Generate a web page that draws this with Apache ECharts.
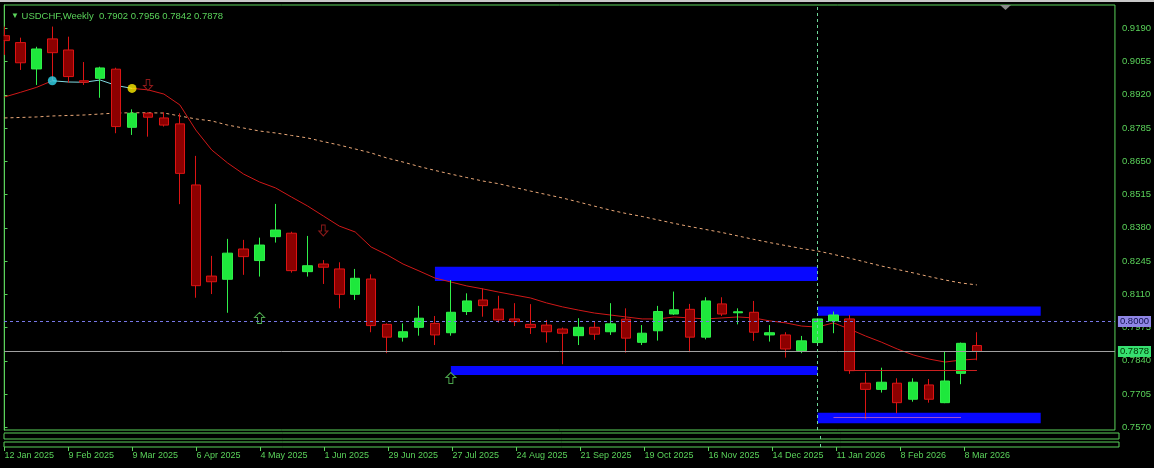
<!DOCTYPE html>
<html>
<head>
<meta charset="utf-8">
<title>USDCHF Weekly</title>
<script src="https://cdn.jsdelivr.net/npm/echarts@6/dist/echarts.min.js"></script>
<style>
  html, body { margin: 0; padding: 0; background: #000; }
  #main { width: 1154px; height: 468px; }
</style>
</head>
<body>
<div id="main"></div>
<script>
// weekly bars, bar 0 = week of 12 Jan 2025
var symbolName = 'USDCHF,Weekly';

// [open, close, low, high]
var candles = [
  [0.9160, 0.9140, 0.9082, 0.9197],
  [0.9132, 0.9050, 0.9021, 0.9152],
  [0.9025, 0.9106, 0.8960, 0.9115],
  [0.9147, 0.9091, 0.8976, 0.9197],
  [0.9102, 0.8994, 0.8969, 0.9156],
  [0.8977, 0.8971, 0.8960, 0.9053],
  [0.8987, 0.9029, 0.8908, 0.9034],
  [0.9024, 0.8791, 0.8764, 0.9030],
  [0.8788, 0.8845, 0.8757, 0.8861],
  [0.8845, 0.8829, 0.8750, 0.8849],
  [0.8826, 0.8797, 0.8791, 0.8849],
  [0.8802, 0.8601, 0.8476, 0.8845],
  [0.8554, 0.8145, 0.8096, 0.8672],
  [0.8184, 0.8161, 0.8111, 0.8266],
  [0.8171, 0.8277, 0.8035, 0.8335],
  [0.8294, 0.8263, 0.8189, 0.8331],
  [0.8247, 0.8310, 0.8182, 0.8340],
  [0.8344, 0.8371, 0.8320, 0.8477],
  [0.8358, 0.8206, 0.8198, 0.8364],
  [0.8202, 0.8226, 0.8182, 0.8347],
  [0.8233, 0.8220, 0.8152, 0.8249],
  [0.8213, 0.8110, 0.8053, 0.8240],
  [0.8110, 0.8175, 0.8087, 0.8213],
  [0.8172, 0.7983, 0.7956, 0.8191],
  [0.7988, 0.7936, 0.7871, 0.7992],
  [0.7936, 0.7958, 0.7918, 0.7992],
  [0.7976, 0.8013, 0.7942, 0.8063],
  [0.7992, 0.7945, 0.7904, 0.8022],
  [0.7954, 0.8037, 0.7942, 0.8168],
  [0.8040, 0.8083, 0.8026, 0.8114],
  [0.8087, 0.8064, 0.8019, 0.8134],
  [0.8050, 0.8006, 0.7995, 0.8104],
  [0.8010, 0.7999, 0.7981, 0.8074],
  [0.7988, 0.7975, 0.7949, 0.8070],
  [0.7985, 0.7958, 0.7914, 0.8006],
  [0.7969, 0.7952, 0.7826, 0.7975],
  [0.7942, 0.7976, 0.7904, 0.8013],
  [0.7976, 0.7948, 0.7925, 0.7999],
  [0.7958, 0.7990, 0.7945, 0.8074],
  [0.8009, 0.7932, 0.7873, 0.8053],
  [0.7915, 0.7952, 0.7904, 0.7985],
  [0.7962, 0.8040, 0.7922, 0.8063],
  [0.8030, 0.8047, 0.8026, 0.8121],
  [0.8049, 0.7936, 0.7875, 0.8071],
  [0.7936, 0.8083, 0.7927, 0.8098],
  [0.8071, 0.8030, 0.8022, 0.8098],
  [0.8035, 0.8039, 0.7988, 0.8053],
  [0.8037, 0.7956, 0.7921, 0.8083],
  [0.7945, 0.7954, 0.7918, 0.7985],
  [0.7945, 0.7888, 0.7853, 0.7956],
  [0.7881, 0.7921, 0.7871, 0.7941],
  [0.7914, 0.8010, 0.7912, 0.8012],
  [0.8002, 0.8026, 0.7952, 0.8040],
  [0.8010, 0.7800, 0.7787, 0.8026],
  [0.7749, 0.7724, 0.7603, 0.7792],
  [0.7724, 0.7753, 0.7711, 0.7812],
  [0.7749, 0.7670, 0.7627, 0.7769],
  [0.7684, 0.7753, 0.7674, 0.7769],
  [0.7742, 0.7684, 0.7670, 0.7766],
  [0.7670, 0.7758, 0.7668, 0.7877],
  [0.7789, 0.7911, 0.7745, 0.7914],
  [0.7902, 0.7878, 0.7842, 0.7956]
];

// fast moving average (solid), cyan between the two dots
var maFast = [
  0.8911, 0.8930, 0.8950, 0.8977, 0.8972, 0.8971, 0.8980, 0.8958, 0.8946, 0.8940,
  0.8923, 0.8879, 0.8777, 0.8696, 0.8643, 0.8598, 0.8566, 0.8542, 0.8505, 0.8469,
  0.8428, 0.8387, 0.8363, 0.8302, 0.8270, 0.8233, 0.8205, 0.8176, 0.8160, 0.8144,
  0.8132, 0.8119, 0.8107, 0.8095, 0.8075, 0.8059, 0.8046, 0.8034, 0.8026, 0.8018,
  0.8010, 0.8010, 0.8018, 0.8014, 0.8010, 0.8014, 0.8018, 0.8014, 0.8002, 0.7994,
  0.7981, 0.7977, 0.7994, 0.7969, 0.7941, 0.7916, 0.7888, 0.7864, 0.7847, 0.7835,
  0.7843, 0.7847
];
var upTrend = [3, 8];

// slow moving average (dashed)
var maSlow = [
  0.8826, 0.8828, 0.8830, 0.8834, 0.8836, 0.8838, 0.8842, 0.8846, 0.8847, 0.8847,
  0.8846, 0.8834, 0.8822, 0.8814, 0.8797, 0.8785, 0.8773, 0.8765, 0.8755, 0.8745,
  0.8730, 0.8716, 0.8700, 0.8684, 0.8663, 0.8647, 0.8629, 0.8613, 0.8598, 0.8584,
  0.8570, 0.8559, 0.8544, 0.8529, 0.8515, 0.8501, 0.8485, 0.8468, 0.8452, 0.8438,
  0.8426, 0.8412, 0.8398, 0.8385, 0.8373, 0.8361, 0.8347, 0.8333, 0.8320, 0.8308,
  0.8296, 0.8286, 0.8272, 0.8257, 0.8241, 0.8225, 0.8211, 0.8197, 0.8182, 0.8168,
  0.8156, 0.8148
];

// one label every 4 bars
var dateLabels = ['12 Jan 2025', '9 Feb 2025', '9 Mar 2025', '6 Apr 2025', '4 May 2025',
  '1 Jun 2025', '29 Jun 2025', '27 Jul 2025', '24 Aug 2025', '21 Sep 2025', '19 Oct 2025',
  '16 Nov 2025', '14 Dec 2025', '11 Jan 2026', '8 Feb 2026', '8 Mar 2026'];
var priceTicks = [0.7570, 0.7705, 0.7840, 0.7975, 0.8110, 0.8245, 0.8380,
  0.8515, 0.8650, 0.8785, 0.8920, 0.9055, 0.9190];

// supply / demand boxes: [bar from, bar to, top, bottom]
var zones = [
  [27, 51, 0.8222, 0.8164],
  [28, 51, 0.7819, 0.7782],
  [51, 65, 0.8060, 0.8023],
  [51, 65, 0.7629, 0.7586]
];
// trend lines: [bar from, bar to, price]
var redLevel = [53, 61, 0.7802];
var violetLevel = [52, 60, 0.7612];

var downArrows = [[9, 0.8960], [20, 0.8369]];
var upArrows = [[16, 0.8014], [28, 0.7770]];
var trendDots = [[3, 0.8977, '#33d8ee'], [8, 0.8946, '#ffee00']];

var levelLine = 0.8000;
var separatorBar = 51;
var bidPrice = 0.7878;

var xMin = -0.03125, xMax = 69.656;
var yMin = 0.755904, yMax = 0.92846;

var green = '#5ad25a';
var font = 'Liberation Sans';

var last = candles[candles.length - 1];
var header = '{t|▼} ' + symbolName + '  ' +
  [last[0], last[3], last[2], last[1]].map(function (v) { return v.toFixed(4); }).join(' ');

var chart = echarts.init(document.getElementById('main'));

var xTickVals = dateLabels.map(function (d, k) { return k * 4; });

var option = {
  backgroundColor: '#000',
  animation: false,
  title: {
    text: header,
    left: 6,
    top: 6,
    textStyle: {
      color: green, fontSize: 9.5, fontWeight: 'normal', fontFamily: font,
      rich: { t: { fontSize: 8, color: green } }
    }
  },
  graphic: [
    { type: 'rect', shape: { x: 0, y: 0, width: 1154, height: 2 }, style: { fill: '#c8c8c8' } },
    { type: 'polygon', shape: { points: [[1000, 5], [1011, 5], [1005.5, 10]] }, style: { fill: '#8a8a8a' } },
    // hide the part of the first bar that falls left of the frame
    { type: 'rect', z: 100, shape: { x: 0, y: 4, width: 3.5, height: 430 }, style: { fill: '#000' } }
  ],
  grid: [
    { left: 4, right: 35, top: 5, bottom: 38, show: true, borderColor: green, borderWidth: 1, backgroundColor: '#000' },
    { left: 4, right: 35, top: 433, height: 6, show: true, borderColor: green, borderWidth: 1 },
    { left: 4, right: 35, top: 442, height: 5, show: true, borderColor: green, borderWidth: 1 }
  ],
  xAxis: [
    { type: 'value', gridIndex: 0, min: xMin, max: xMax, show: false },
    { type: 'value', gridIndex: 1, min: xMin, max: xMax, show: false },
    {
      type: 'value', gridIndex: 2, min: xMin, max: xMax,
      axisLine: { show: false },
      splitLine: { show: false },
      axisTick: { show: true, customValues: xTickVals, length: 4, lineStyle: { color: green } },
      axisLabel: {
        customValues: xTickVals, color: green, fontSize: 9, fontFamily: font,
        align: 'left', margin: 4,
        formatter: function (v) { return dateLabels[Math.round(v / 4)] || ''; }
      }
    }
  ],
  yAxis: [
    {
      type: 'value', gridIndex: 0, position: 'right', min: yMin, max: yMax,
      axisLine: { show: true, lineStyle: { color: green } },
      splitLine: { show: false },
      axisTick: { show: true, customValues: priceTicks, length: 3, lineStyle: { color: green } },
      axisLabel: {
        customValues: priceTicks, color: green, fontSize: 9.5, fontFamily: font, margin: 7,
        formatter: function (v) { return v.toFixed(4); }
      }
    },
    { type: 'value', gridIndex: 1, min: 0, max: 1, show: false },
    { type: 'value', gridIndex: 2, min: 0, max: 1, show: false }
  ],
  series: [
    {
      // boxes and horizontal levels
      type: 'line', data: [], z: 1, silent: true,
      markArea: {
        silent: true,
        itemStyle: { color: '#0808ff', opacity: 1 },
        data: zones.map(function (z) {
          return [{ coord: [z[0], z[2]] }, { coord: [z[1], z[3]] }];
        })
      },
      markLine: {
        silent: true, symbol: ['none', 'none'], animation: false, precision: 4,
        data: [
          [{ coord: [violetLevel[0], violetLevel[2]], lineStyle: { color: '#a050c8', width: 1, type: 'solid' } },
           { coord: [violetLevel[1], violetLevel[2]] }],
          [{ coord: [redLevel[0], redLevel[2]], lineStyle: { color: '#cc2020', width: 1, type: 'solid' } },
           { coord: [redLevel[1], redLevel[2]] }],
          {
            yAxis: levelLine,
            lineStyle: { color: '#7878e8', width: 1, type: [3, 3] },
            label: {
              show: true, position: 'end', distance: 3, formatter: levelLine.toFixed(4),
              backgroundColor: '#8f86e6', color: '#10104a', fontSize: 9.5, fontFamily: font,
              padding: [1, 2, 0, 2]
            }
          },
          {
            yAxis: bidPrice,
            lineStyle: { color: '#a0a0a0', width: 1, type: 'solid' },
            label: {
              show: true, position: 'end', distance: 3, formatter: bidPrice.toFixed(4),
              backgroundColor: '#36e070', color: '#003300', fontSize: 9.5, fontFamily: font,
              padding: [1, 2, 0, 2]
            }
          },
          {
            xAxis: separatorBar,
            lineStyle: { color: '#6fd89a', width: 1, type: [3, 3] },
            label: { show: false }
          }
        ],
        label: { show: false }
      }
    },
    {
      name: 'slow', type: 'line', z: 2, symbol: 'none', silent: true,
      lineStyle: { color: '#eaa878', width: 1, type: [3, 3] },
      data: maSlow.map(function (v, i) { return [i, v]; })
    },
    {
      name: 'fast', type: 'line', z: 2, symbol: 'none', silent: true, connectNulls: false,
      lineStyle: { color: '#d01818', width: 1 },
      data: maFast.map(function (v, i) {
        return [i, (i <= upTrend[0] || i >= upTrend[1]) ? v : '-'];
      })
    },
    {
      name: 'fastUp', type: 'line', z: 2, symbol: 'none', silent: true,
      lineStyle: { color: '#80d8e0', width: 1 },
      data: maFast.map(function (v, i) {
        return [i, (i >= upTrend[0] && i <= upTrend[1]) ? v : '-'];
      })
    },
    {
      name: symbolName, type: 'candlestick', z: 3, barWidth: 10, silent: true, clip: true,
      encode: { x: 0, y: [1, 2, 3, 4] },
      itemStyle: {
        color: '#1ee83c', borderColor: '#30f04a',
        color0: '#8c0000', borderColor0: '#dc1414', borderWidth: 1
      },
      data: candles.map(function (c, i) { return [i, c[0], c[1], c[2], c[3]]; })
    },
    {
      type: 'scatter', z: 4, silent: true,
      symbol: 'path://M3,0 L7,0 L7,6 L10,6 L5,11 L0,6 L3,6 Z', symbolSize: [9, 11],
      itemStyle: { color: '#000', borderColor: '#b02020', borderWidth: 1 },
      data: downArrows
    },
    {
      type: 'scatter', z: 4, silent: true,
      symbol: 'path://M5,0 L10,5 L7,5 L7,11 L3,11 L3,5 L0,5 Z', symbolSize: [10, 11],
      itemStyle: { color: '#000', borderColor: '#60d060', borderWidth: 1 },
      data: upArrows
    },
    {
      type: 'scatter', z: 5, silent: true, symbolSize: 9,
      data: trendDots.map(function (d) { return { value: [d[0], d[1]], itemStyle: { color: d[2] } }; })
    },
    {
      type: 'line', xAxisIndex: 1, yAxisIndex: 1, data: [[separatorBar, 0.5]], symbol: 'none', silent: true,
      markLine: { silent: true, symbol: ['none', 'none'], label: { show: false },
        lineStyle: { color: '#6fd89a', width: 1, type: [3, 3] }, data: [{ xAxis: separatorBar }] }
    },
    {
      type: 'line', xAxisIndex: 2, yAxisIndex: 2, data: [[separatorBar, 0.5]], symbol: 'none', silent: true,
      markLine: { silent: true, symbol: ['none', 'none'], label: { show: false },
        lineStyle: { color: '#6fd89a', width: 1, type: [3, 3] }, data: [{ xAxis: separatorBar }] }
    }
  ]
};

chart.setOption(option);
</script>
</body>
</html>
